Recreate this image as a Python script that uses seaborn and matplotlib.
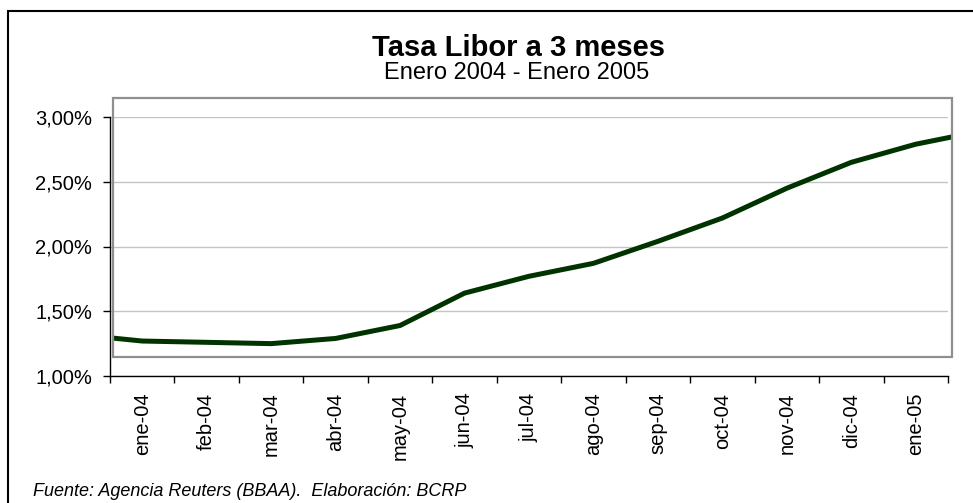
import numpy as np
import pandas as pd
import seaborn as sns
import matplotlib.pyplot as plt
from matplotlib.patches import Rectangle
from matplotlib.ticker import FuncFormatter

# Tasa Libor a 3 meses, Enero 2004 - Enero 2005 (valores en %)
# dic-03 y feb-05 solo sirven para que la linea llegue a los bordes del area
meses = ["dic-03", "ene-04", "feb-04", "mar-04", "abr-04", "may-04", "jun-04", "jul-04",
         "ago-04", "sep-04", "oct-04", "nov-04", "dic-04", "ene-05", "feb-05"]
libor = [1.32, 1.27, 1.26, 1.25, 1.29, 1.39, 1.64, 1.77,
         1.87, 2.04, 2.22, 2.45, 2.65, 2.79, 2.89]
etiquetas = meses[1:-1]

df = pd.DataFrame({"pos": np.arange(-1, len(meses) - 1), "mes": meses, "libor": libor})

sns.set_style("white")
plt.rcParams["font.family"] = ["Liberation Sans", "DejaVu Sans"]
plt.rcParams["text.color"] = "black"
plt.rcParams["xtick.color"] = "black"
plt.rcParams["ytick.color"] = "black"

fig = plt.figure(figsize=(9.73, 5.03), dpi=100)
W, H = 973, 503
ax = fig.add_axes([110 / W, (H - 376) / H, (948 - 110) / W, (376 - 117) / H])

sns.lineplot(data=df, x="pos", y="libor", ax=ax, color="#003300", linewidth=3.6)

ax.set_xlim(-0.5, len(etiquetas) - 0.5)
ax.set_ylim(1.0, 3.0)

# caja gris del area de grafico (desplazada como en el original)
caja = Rectangle((3 / 838, 19 / 259), 839 / 838, 1.0, transform=ax.transAxes,
                 fill=False, ec="#8f8f8f", lw=1.6, clip_on=False, zorder=3)
ax.add_patch(caja)
ax.lines[0].set_clip_path(caja)

# eje y
ax.set_yticks([1.0, 1.5, 2.0, 2.5, 3.0])
ax.yaxis.set_major_formatter(FuncFormatter(lambda v, p: f"{v:.2f}%".replace(".", ",")))
ax.tick_params(axis="y", length=5, width=1, color="black", direction="out",
               pad=8, labelsize=14.5, left=True)
ax.grid(axis="y", color="#c4c4c4", lw=1)
ax.grid(axis="x", visible=False)

# eje x: marcas entre categorias, etiquetas verticales en el centro
ax.set_xticks(np.arange(len(etiquetas)))
ax.set_xticklabels(etiquetas, rotation=90)
ax.set_xticks(np.arange(len(etiquetas) + 1) - 0.5, minor=True)
ax.tick_params(axis="x", which="major", length=0, pad=12, labelsize=14.5)
ax.tick_params(axis="x", which="minor", length=5, width=1, color="black",
               direction="out", bottom=True)
ax.set_xlabel("")
ax.set_ylabel("")

for s in ["top", "right"]:
    ax.spines[s].set_visible(False)
for s in ["left", "bottom"]:
    ax.spines[s].set_color("black")
    ax.spines[s].set_linewidth(1)

# titulos y fuente
fig.text(518 / W, 1 - 56 / H, "Tasa Libor a 3 meses", ha="center", va="baseline",
         fontsize=21, fontweight="bold")
fig.text(517 / W, 1 - 79 / H, "Enero 2004 - Enero 2005", ha="center", va="baseline",
         fontsize=17)
fig.text(33 / W, 1 - 496 / H, "Fuente: Agencia Reuters (BBAA).  Elaboración: BCRP",
         ha="left", va="baseline", fontsize=13, style="italic")

# marco exterior del grafico
fig.patches.append(Rectangle((8 / W, -0.1), 1.2, (H - 11) / H + 0.1,
                             transform=fig.transFigure, fill=False, ec="black", lw=1.5))

fig.savefig("out.png", dpi=100)
